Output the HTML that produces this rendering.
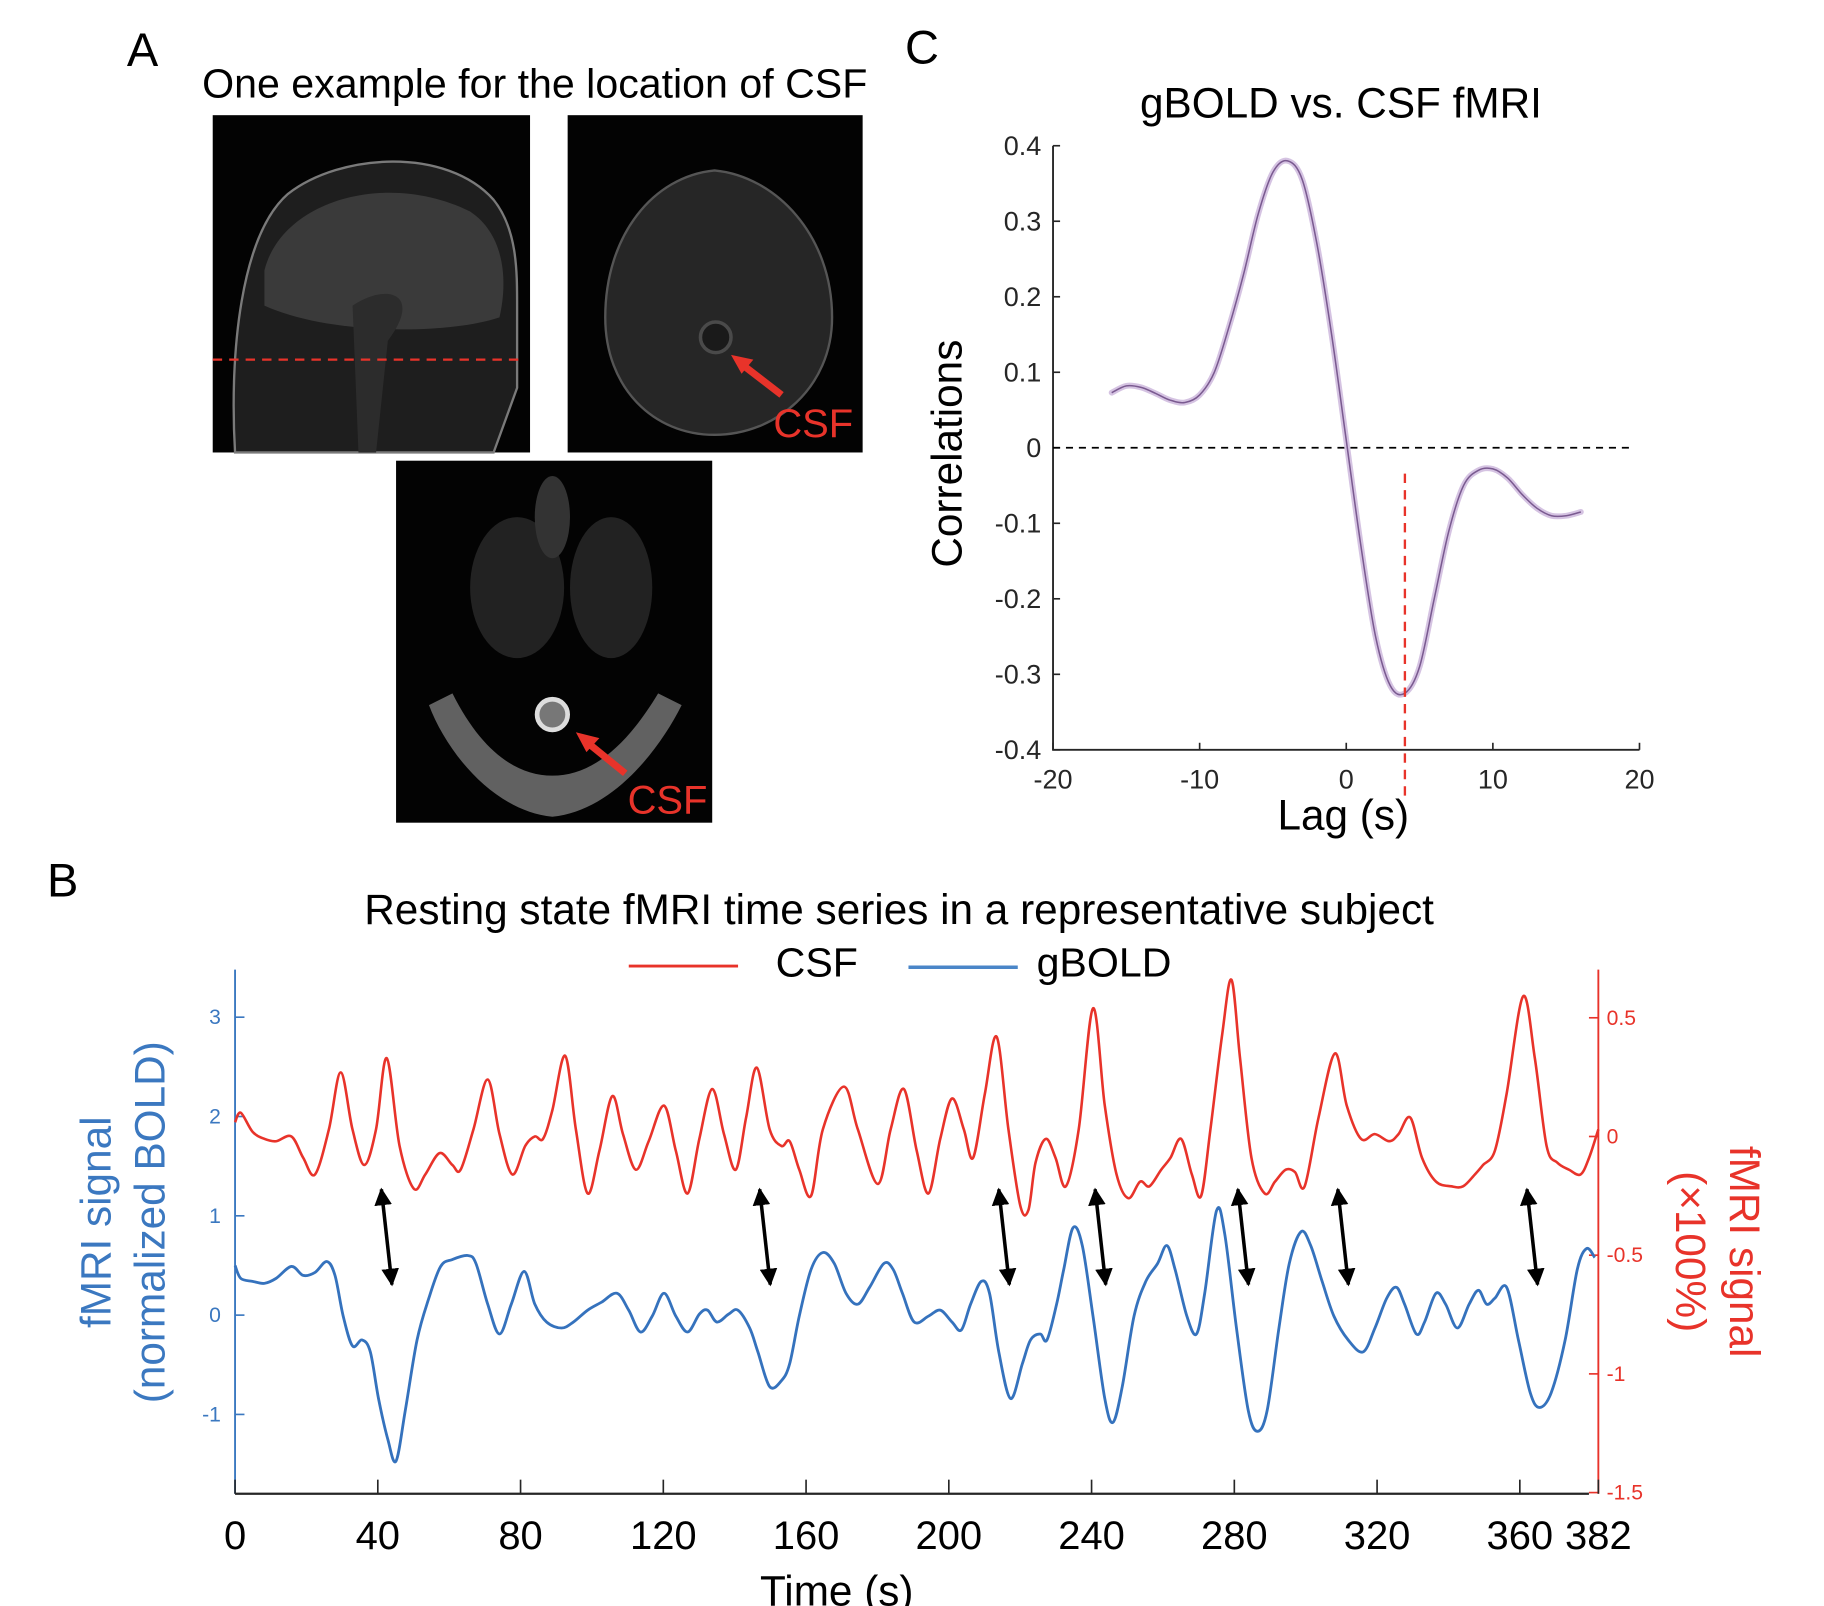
<!DOCTYPE html>
<html><head><meta charset="utf-8"><style>
html,body{margin:0;padding:0;background:#fff;}
svg{display:block;font-family:"Liberation Sans",Arial,sans-serif;}
</style></head><body>
<svg id="fig" width="1824" height="1606" viewBox="0 0 1552 1366.5" xmlns="http://www.w3.org/2000/svg">
<defs>
<marker id="ah" viewBox="0 0 10 10" refX="9" refY="5" markerWidth="5" markerHeight="5" orient="auto-start-reverse"><path d="M0,0 L10,5 L0,10 z" fill="#000"/></marker>
</defs>
<g>
<text x="108" y="56" font-size="40">A</text>
<text x="172" y="83" font-size="35">One example for the location of CSF</text>
<g>
<rect x="181" y="98" width="270" height="287" fill="#030303"/>
<path d="M200,385 C195,300 205,200 245,165 C290,130 380,125 420,170 C440,195 440,230 440,260 L440,330 L420,385 Z" fill="#1e1e1e" stroke="#7a7a7a" stroke-width="2"/>
<path d="M225,230 C240,170 330,145 400,180 C430,200 432,240 425,270 C380,285 280,285 225,260 Z" fill="#3a3a3a"/>
<path d="M300,260 C330,240 360,250 330,290 L320,385 L305,385 Z" fill="#2c2c2c"/>
<line x1="181" y1="306" x2="447" y2="306" stroke="#e8332a" stroke-width="2" stroke-dasharray="8,6"/>
</g>
<g>
<rect x="483" y="98" width="251" height="287" fill="#030303"/>
<path d="M608,145 C660,150 708,200 708,270 C708,330 660,370 608,370 C556,370 515,330 515,270 C515,200 556,150 608,145 Z" fill="#262626" stroke="#555" stroke-width="2"/>
<circle cx="609" cy="287" r="13" fill="#1a1a1a" stroke="#4a4a4a" stroke-width="3"/>
<line x1="665" y1="336" x2="630" y2="309" stroke="#e8332a" stroke-width="6"/>
<path d="M622,302 L641,306 L631,318 Z" fill="#e8332a"/>
<text x="658" y="372" font-size="34" fill="#e8332a">CSF</text>
</g>
<g>
<rect x="337" y="392" width="269" height="308" fill="#030303"/>
<path d="M365,600 C380,640 420,690 470,695 C520,690 560,640 580,600 L560,590 C530,640 500,660 470,660 C440,660 410,640 385,590 Z" fill="#8a8a8a" opacity="0.7"/>
<ellipse cx="440" cy="500" rx="40" ry="60" fill="#222"/>
<ellipse cx="520" cy="500" rx="35" ry="60" fill="#222"/>
<ellipse cx="470" cy="440" rx="15" ry="35" fill="#333"/>
<circle cx="470" cy="608" r="13" fill="#777" stroke="#ddd" stroke-width="4"/>
<line x1="532" y1="658" x2="500" y2="632" stroke="#e8332a" stroke-width="6"/>
<path d="M490,623 L510,628 L499,640 Z" fill="#e8332a"/>
<text x="534" y="692" font-size="34" fill="#e8332a">CSF</text>
</g>
</g>
<g id="panelC">
<text x="770" y="54" font-size="40">C</text>
<text x="1141" y="100" font-size="36" text-anchor="middle">gBOLD vs. CSF fMRI</text>
<text transform="translate(818,386) rotate(-90)" font-size="36" text-anchor="middle">Correlations</text>
<text x="1143" y="706" font-size="36" text-anchor="middle">Lag (s)</text>
</g>
<g id="panelB">
<text x="40" y="763" font-size="40">B</text>
<text x="765" y="786" font-size="36" text-anchor="middle">Resting state fMRI time series in a representative subject</text>
<g>
<line x1="535" y1="822" x2="628" y2="822" stroke="#e8332a" stroke-width="2.5"/>
<text x="660" y="831" font-size="35">CSF</text>
<line x1="773" y1="823" x2="866" y2="823" stroke="#4a86c8" stroke-width="3"/>
<text x="882" y="831" font-size="35">gBOLD</text>
</g>
<text transform="translate(94,1040) rotate(-90)" font-size="36" fill="#3b78c0" text-anchor="middle">fMRI signal</text>
<text transform="translate(140,1040) rotate(-90)" font-size="36" fill="#3b78c0" text-anchor="middle">(normalized BOLD)</text>
<text transform="translate(1472,1065) rotate(90)" font-size="36" fill="#e8332a" text-anchor="middle">fMRI signal</text>
<text transform="translate(1426,1065) rotate(90)" font-size="36" fill="#e8332a" text-anchor="middle">(×100%)</text>
<text x="712" y="1366" font-size="36" text-anchor="middle">Time (s)</text>
</g>
</svg>
<script>
// ---------- Panel C data ----------
const lags = [-16,-15,-14,-13,-12,-11,-10,-9,-8,-7,-6,-5,-4,-3,-2,-1,0,1,2,3,4,5,6,7,8,9,10,11,12,13,14,15,16];
const corrValues = [0.073,0.082,0.080,0.072,0.063,0.060,0.070,0.100,0.160,0.230,0.310,0.365,0.380,0.355,0.270,0.150,0.010,-0.130,-0.250,-0.315,-0.325,-0.290,-0.200,-0.110,-0.050,-0.030,-0.028,-0.040,-0.062,-0.080,-0.090,-0.090,-0.085];
const corrYTicks = [0.4,0.3,0.2,0.1,0,-0.1,-0.2,-0.3,-0.4];
const corrYTickLabels = ["0.4","0.3","0.2","0.1","0","-0.1","-0.2","-0.3","-0.4"];
const corrXTicks = [-20,-10,0,10,20];
const peakLag = 4;

// ---------- Panel B data ----------
const csfTimes = [0,1.6,4.9,8.2,11.5,15.8,19.1,22.4,26.3,29.6,32.9,36.2,39.5,42.5,46.1,50.1,53.3,57.3,60.9,63.2,66.8,70.8,74.1,77.7,81.3,84.0,86.3,88.9,92.5,95.5,98.8,102.1,105.7,108.7,112.3,115.9,120.2,123.5,126.8,130.1,133.7,137.0,140.3,143.2,146.2,149.8,153.1,155.4,158.1,161.4,164.7,170.6,174.5,180.1,183.7,187.4,191.0,194.3,197.6,200.9,204.2,206.8,210.1,213.4,216.7,220.0,222.3,224.3,227.2,229.9,232.8,236.4,240.4,243.7,247.0,250.3,253.6,256.2,259.5,262.1,265.1,268.1,270.7,273.3,276.6,279.2,281.6,284.8,288.5,291.4,294.4,297.0,299.7,303.6,308.2,311.5,315.5,319.4,323.4,326.0,329.3,332.6,336.5,340.8,344.1,347.4,349.7,353.0,356.3,360.9,364.2,367.5,370.5,373.8,377.0,379.4,382.0];
const csfValues = [0.06,0.10,0.02,-0.01,-0.02,0.00,-0.09,-0.16,0.03,0.27,0.03,-0.12,0.03,0.33,-0.04,-0.22,-0.16,-0.07,-0.12,-0.14,0.03,0.24,0.01,-0.16,-0.04,0.00,-0.01,0.11,0.34,0.03,-0.24,-0.06,0.17,0.01,-0.14,-0.02,0.13,-0.06,-0.24,-0.01,0.20,0.01,-0.14,0.08,0.29,0.03,-0.04,-0.02,-0.14,-0.25,0.03,0.21,0.03,-0.20,0.03,0.20,-0.06,-0.24,-0.01,0.16,0.03,-0.09,0.18,0.42,0.03,-0.29,-0.31,-0.11,-0.01,-0.09,-0.21,0.03,0.54,0.13,-0.16,-0.26,-0.19,-0.21,-0.14,-0.09,-0.01,-0.16,-0.25,0.03,0.43,0.66,0.33,-0.09,-0.24,-0.19,-0.14,-0.15,-0.21,0.08,0.35,0.13,-0.01,0.01,-0.02,0.01,0.08,-0.09,-0.19,-0.21,-0.21,-0.16,-0.12,-0.06,0.18,0.59,0.33,-0.04,-0.11,-0.14,-0.16,-0.09,0.03];
const boldTimes = [0,1.6,4.9,8.2,11.5,15.8,19.1,22.4,25.7,28.0,30.3,32.9,35.6,37.9,40.2,42.8,45.1,47.7,51.0,54.3,57.6,60.9,65.2,67.5,70.8,74.1,77.4,81.0,84.0,87.3,91.5,94.8,98.8,102.7,107.0,110.3,113.6,116.9,120.2,123.5,126.8,130.1,132.4,135.0,138.3,140.9,144.2,146.5,149.8,153.1,155.4,158.1,161.4,164.7,167.9,171.2,174.5,177.8,181.8,184.4,187.0,190.3,194.3,197.6,200.9,203.5,206.1,209.1,211.4,214.0,217.3,220.6,222.9,225.6,227.5,230.2,232.2,234.8,237.4,240.4,243.7,246.0,248.6,251.9,255.2,258.5,261.1,263.4,266.7,269.4,271.7,275.0,277.3,280.6,283.9,286.5,289.2,292.5,295.4,298.7,301.4,304.6,307.9,311.9,316.1,319.4,322.7,325.4,327.7,331.0,333.3,336.5,339.2,342.5,345.8,348.4,350.7,353.0,356.3,359.6,362.9,365.5,368.8,372.7,376.1,378.7,381.0];
const boldValues = [0.50,0.37,0.34,0.32,0.37,0.49,0.40,0.43,0.54,0.40,-0.01,-0.31,-0.25,-0.37,-0.84,-1.25,-1.47,-0.96,-0.25,0.17,0.49,0.56,0.60,0.52,0.11,-0.19,0.11,0.44,0.11,-0.07,-0.13,-0.07,0.05,0.13,0.22,0.05,-0.17,-0.01,0.22,-0.01,-0.17,0.01,0.05,-0.07,0.01,0.05,-0.13,-0.37,-0.72,-0.66,-0.49,-0.01,0.46,0.63,0.52,0.22,0.11,0.28,0.52,0.46,0.22,-0.07,-0.01,0.05,-0.07,-0.15,0.11,0.34,0.22,-0.37,-0.84,-0.49,-0.25,-0.19,-0.25,0.11,0.46,0.88,0.70,-0.01,-0.84,-1.08,-0.72,-0.01,0.34,0.52,0.70,0.46,-0.01,-0.19,0.22,1.05,0.82,-0.13,-0.96,-1.17,-0.96,-0.13,0.52,0.84,0.70,0.34,-0.01,-0.25,-0.37,-0.13,0.17,0.28,0.11,-0.19,-0.07,0.22,0.11,-0.13,0.11,0.25,0.11,0.17,0.28,-0.25,-0.78,-0.93,-0.78,-0.25,0.46,0.67,0.58];
const arrowTimes = [41,147,214,241,281,309,362];
const timeTicks = [0,40,80,120,160,200,240,280,320,360,382];
const leftTicks = [3,2,1,0,-1];
const rightTicks = [0.5,0,-0.5,-1,-1.5];
const rightTickLabels = ["0.5","0","-0.5","-1","-1.5"];

const NS = "http://www.w3.org/2000/svg";
function mk(tag, attrs, parent){ const e=document.createElementNS(NS,tag); for(const k in attrs) e.setAttribute(k,attrs[k]); parent.appendChild(e); return e; }
function smoothPath(pts){
  let d = "M"+pts[0][0].toFixed(2)+","+pts[0][1].toFixed(2);
  for(let i=0;i<pts.length-1;i++){
    const p0=pts[Math.max(0,i-1)], p1=pts[i], p2=pts[i+1], p3=pts[Math.min(pts.length-1,i+2)];
    const c1x=p1[0]+(p2[0]-p0[0])/6, c1y=p1[1]+(p2[1]-p0[1])/6;
    const c2x=p2[0]-(p3[0]-p1[0])/6, c2y=p2[1]-(p3[1]-p1[1])/6;
    d+=" C"+c1x.toFixed(2)+","+c1y.toFixed(2)+" "+c2x.toFixed(2)+","+c2y.toFixed(2)+" "+p2[0].toFixed(2)+","+p2[1].toFixed(2);
  }
  return d;
}

// ---------- Panel C ----------
const gC = document.getElementById("panelC");
const cx = v => 896 + (v + 20) * (1395 - 896) / 40;
const cy = v => 381 - v * (638 - 124) / 0.8;
let ax = mk("path",{d:"M896,124 L896,638 L1395,638",fill:"none",stroke:"#262626","stroke-width":1.6},gC);


corrYTicks.forEach((t,i)=>{
  mk("line",{x1:896,x2:902,y1:cy(t),y2:cy(t),stroke:"#262626","stroke-width":1.4},gC);
  const tx = mk("text",{x:886,y:cy(t)+8,"font-size":23,"text-anchor":"end",fill:"#262626"},gC);
  tx.textContent = corrYTickLabels[i];
  
  
});
corrXTicks.forEach(t=>{
  mk("line",{x1:cx(t),x2:cx(t),y1:638,y2:632,stroke:"#262626","stroke-width":1.4},gC);
  const tx = mk("text",{x:cx(t),y:671,"font-size":23,"text-anchor":"middle",fill:"#262626"},gC);
  tx.textContent = String(t);
  
  
});
let zl = mk("line",{x1:896,x2:1390,y1:cy(0),y2:cy(0),stroke:"#000","stroke-width":1.5,"stroke-dasharray":"6,5"},gC);


const cpts = lags.map((l,i)=>[cx(l),cy(corrValues[i])]);
let band = mk("path",{d:smoothPath(cpts),fill:"none",stroke:"#d5c3e2","stroke-width":5,"stroke-linecap":"round"},gC);


let cl = mk("path",{d:smoothPath(cpts),fill:"none",stroke:"#7a5a90","stroke-width":1.3},gC);


let pl = mk("line",{x1:cx(peakLag),x2:cx(peakLag),y1:403,y2:680,stroke:"#e8332a","stroke-width":2,"stroke-dasharray":"8,6"},gC);



// ---------- Panel B ----------
const gB = document.getElementById("panelB");
const tx = t => 200 + t * (1360 - 200) / 382;
const ly = v => 1119 - v * 84.5;
const ry = v => 967 - v * 202;
let la = mk("line",{x1:200,x2:200,y1:825,y2:1271,stroke:"#3b78c0","stroke-width":1.6},gB);


let ra = mk("line",{x1:1360,x2:1360,y1:825,y2:1271,stroke:"#e8332a","stroke-width":1.6},gB);


let ba = mk("line",{x1:200,x2:1352,y1:1271,y2:1271,stroke:"#262626","stroke-width":2},gB);


leftTicks.forEach(t=>{
  mk("line",{x1:200,x2:208,y1:ly(t),y2:ly(t),stroke:"#3b78c0","stroke-width":1.4},gB);
  const e = mk("text",{x:188,y:ly(t)+6,"font-size":18,"text-anchor":"end",fill:"#3b78c0"},gB);
  e.textContent = String(t);
  
  
});
rightTicks.forEach((t,i)=>{
  mk("line",{x1:1352,x2:1360,y1:ry(t),y2:ry(t),stroke:"#e8332a","stroke-width":1.4},gB);
  const e = mk("text",{x:1367,y:ry(t)+6,"font-size":18,fill:"#e8332a"},gB);
  e.textContent = rightTickLabels[i];
  
  
});
timeTicks.forEach(t=>{
  mk("line",{x1:tx(t),x2:tx(t),y1:1271,y2:1259,stroke:"#262626","stroke-width":1.4},gB);
  const e = mk("text",{x:tx(t),y:1318,"font-size":34,"text-anchor":"middle",fill:"#000"},gB);
  e.textContent = String(t);
  
  
});
let csf = mk("path",{d:smoothPath(csfTimes.map((t,i)=>[tx(t),ry(csfValues[i])])),fill:"none",stroke:"#e8332a","stroke-width":2.2},gB);


let bold = mk("path",{d:smoothPath(boldTimes.map((t,i)=>[tx(t),ly(boldValues[i])])),fill:"none",stroke:"#3572bd","stroke-width":2.4},gB);


arrowTimes.forEach(t=>{
  const x = tx(t);
  const a = mk("line",{x1:x,y1:1012,x2:x+9,y2:1093,stroke:"#000","stroke-width":3,"marker-start":"url(#ah)","marker-end":"url(#ah)"},gB);
  
  
});
</script>
</body></html>
